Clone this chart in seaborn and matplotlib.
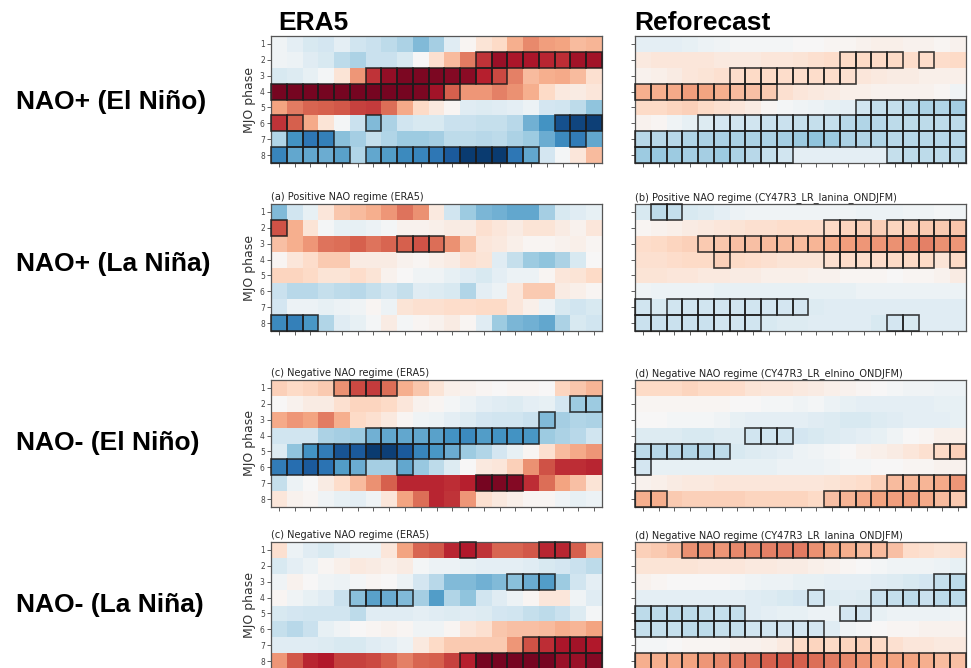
import numpy as np
import pandas as pd
import matplotlib
matplotlib.use("Agg")
import matplotlib.pyplot as plt
from matplotlib.patches import Rectangle
import seaborn as sns

# ---- axes labels -------------------------------------------------------
phases = [1, 2, 3, 4, 5, 6, 7, 8]
lags = list(range(21))

row_labels = ["NAO+ (El Niño)", "NAO+ (La Niña)", "NAO- (El Niño)", "NAO- (La Niña)"]
col_labels = ["ERA5", "Reforecast"]
panel_titles = [
    ["", ""],
    ["(a) Positive NAO regime (ERA5)", "(b) Positive NAO regime (CY47R3_LR_lanina_ONDJFM)"],
    ["(c) Negative NAO regime (ERA5)", "(d) Negative NAO regime (CY47R3_LR_elnino_ONDJFM)"],
    ["(c) Negative NAO regime (ERA5)", "(d) Negative NAO regime (CY47R3_LR_lanina_ONDJFM)"],
]

# ---- composite anomalies (rows: MJO phase 1-8, columns: lag) -------------
era5_pos_elnino = [
    [-0.2, -0.5, -0.8, -0.9, -0.5, -1.0, -1.1, -1.3, -1.6, -2.2, -1.7, -0.6, 0.1, 0.7, 1.0, 1.8, 2.4, 2.1, 2.0, 1.6, 1.7],
    [-0.2, -0.3, -0.6, -0.8, -1.3, -1.6, -1.1, -1.1, -0.8, 0.0, 0.8, 1.6, 2.6, 3.6, 4.3, 4.1, 4.1, 3.8, 3.7, 4.2, 4.2],
    [-0.8, -0.7, -0.4, -0.1, 0.7, 2.2, 3.6, 4.4, 4.7, 4.7, 4.7, 4.6, 4.5, 3.9, 3.3, 2.5, 1.6, 1.8, 1.9, 1.6, 0.8],
    [4.8, 4.8, 4.8, 4.8, 4.8, 4.8, 4.8, 4.8, 4.8, 4.7, 4.2, 3.0, 2.2, 2.2, 2.5, 2.3, 1.8, 1.0, 0.5, 0.4, 0.6],
    [2.0, 2.6, 2.9, 3.0, 3.1, 3.4, 3.5, 2.8, 1.9, 1.0, 0.5, 0.1, -0.6, -0.7, -0.6, -0.5, -0.3, -0.9, -1.0, -1.3, -2.0],
    [3.6, 3.0, 1.9, 0.7, -0.1, -1.1, -2.2, -1.6, -1.0, -0.8, -0.8, -1.1, -1.1, -1.2, -1.2, -1.4, -2.4, -3.0, -4.4, -4.6, -4.7],
    [-1.5, -3.0, -3.6, -3.4, -2.1, -1.7, -1.2, -1.5, -1.8, -1.8, -1.7, -1.3, -1.3, -1.4, -1.3, -1.6, -1.8, -2.5, -3.2, -3.5, -2.6],
    [-3.3, -2.6, -2.6, -2.5, -2.7, -1.5, -2.6, -2.8, -3.2, -3.3, -3.6, -4.2, -4.8, -4.8, -4.8, -3.6, -2.6, -0.9, -0.1, 0.6, 1.6],
]
fc_pos_elnino = [
    [-0.5, -0.5, -0.5, -0.4, -0.3, -0.2, -0.1, -0.1, -0.1, -0.1, 0.0, 0.0, 0.1, 0.1, 0.2, 0.3, 0.3, 0.2, 0.2, 0.1, 0.2],
    [0.5, 0.6, 0.6, 0.6, 0.6, 0.5, 0.5, 0.5, 0.6, 0.6, 0.7, 0.8, 0.9, 1.0, 1.0, 1.0, 1.0, 0.9, 0.9, 0.9, 1.0],
    [0.2, 0.3, 0.4, 0.6, 0.7, 0.8, 0.9, 1.0, 1.0, 0.9, 0.9, 0.9, 0.9, 0.8, 0.6, 0.5, 0.4, 0.4, 0.3, 0.3, 0.3],
    [1.8, 1.8, 1.9, 2.1, 2.0, 1.8, 1.6, 1.5, 1.3, 0.8, 0.6, 0.5, 0.4, 0.3, 0.3, 0.2, 0.2, 0.2, 0.2, 0.1, -0.2],
    [1.0, 1.0, 1.1, 1.2, 1.0, 0.8, 0.6, 0.4, 0.1, -0.1, -0.2, -0.3, -0.4, -0.5, -1.0, -1.2, -1.2, -1.4, -1.6, -1.5, -1.7],
    [0.2, 0.1, -0.2, -0.4, -0.7, -0.9, -1.0, -1.0, -1.1, -1.1, -1.2, -1.2, -1.2, -1.4, -1.5, -1.4, -1.3, -1.3, -1.3, -1.3, -1.3],
    [-1.4, -1.4, -1.4, -1.5, -1.6, -1.6, -1.6, -1.6, -1.6, -1.7, -1.8, -2.0, -1.8, -1.6, -1.5, -1.5, -1.4, -1.4, -1.4, -1.4, -1.4],
    [-1.8, -1.9, -1.8, -1.7, -1.7, -1.8, -1.6, -1.4, -1.2, -1.0, -0.5, -0.5, -0.5, -0.5, -0.5, -0.5, -1.2, -1.3, -1.3, -1.3, -1.3],
]
era5_pos_lanina = [
    [-2.2, -1.0, -0.4, 0.6, 1.4, 1.6, 1.8, 2.2, 2.7, 2.3, 0.5, -1.0, -1.8, -2.3, -2.4, -2.6, -2.6, -1.7, -0.8, -0.6, -0.4],
    [3.2, 1.8, 0.7, -0.1, -0.4, -0.4, -0.3, -0.1, 0.2, 0.2, 0.3, 0.4, 0.4, 0.8, 0.6, 0.4, 0.7, 0.7, 0.4, 0.2, 0.6],
    [1.5, 1.8, 2.2, 2.7, 2.8, 3.0, 2.7, 2.9, 3.0, 3.2, 2.8, 2.3, 1.4, 0.6, 0.5, 0.3, 0.1, 0.1, 0.2, 0.3, 0.1],
    [0.1, 0.6, 0.9, 1.3, 1.3, 0.4, 0.4, 0.4, 0.2, 0.1, 0.3, 0.4, 0.8, 0.7, -0.6, -1.2, -1.8, -2.0, -1.6, -0.8, 0.0],
    [1.1, 1.1, 1.0, 0.7, 0.7, 0.9, 0.7, 0.2, 0.0, -0.2, -0.2, -0.4, -0.6, -0.8, -0.5, -0.3, -0.3, 0.1, 0.6, 0.7, 1.0],
    [-1.1, -1.4, -1.4, -1.2, -1.3, -1.4, -1.2, -1.0, -1.2, -0.6, -0.7, -0.8, -1.5, -0.5, -0.3, 0.6, 1.3, 1.3, 0.4, 0.3, 0.1],
    [-0.9, -0.3, -0.3, -0.4, -0.3, -0.2, 0.1, -0.3, 0.7, 0.8, 0.8, 0.9, 0.9, 1.0, 1.0, 0.6, 0.3, -0.3, -0.8, -1.0, -0.8],
    [-3.2, -3.4, -2.9, -1.5, -0.6, -0.4, -0.1, 0.4, -0.1, 0.1, 0.2, 0.4, 0.1, -0.6, -1.8, -2.3, -2.4, -2.6, -1.6, -0.8, -1.0],
]
fc_pos_lanina = [
    [-0.8, -1.3, -1.2, -0.8, -0.7, -0.5, -0.3, -0.2, -0.2, -0.2, -0.2, -0.2, -0.2, -0.2, -0.3, -0.3, -0.3, -0.2, -0.2, -0.1, -0.2],
    [0.1, 0.2, 0.3, 0.4, 0.5, 0.6, 0.7, 0.8, 0.8, 0.9, 0.9, 0.9, 1.0, 1.1, 1.2, 1.2, 1.1, 1.2, 1.3, 1.3, 1.4],
    [0.9, 1.0, 1.1, 1.2, 1.3, 1.4, 1.5, 1.5, 1.6, 1.6, 1.6, 1.7, 1.9, 2.1, 2.2, 2.2, 2.3, 2.4, 2.5, 2.3, 2.2],
    [0.8, 0.8, 0.9, 1.0, 1.0, 1.2, 1.0, 0.9, 0.8, 0.7, 0.7, 0.7, 0.8, 0.9, 0.9, 0.9, 1.0, 1.0, 1.0, 0.7, 1.0],
    [0.7, 0.7, 0.6, 0.6, 0.5, 0.5, 0.4, 0.4, 0.3, 0.3, 0.3, 0.2, 0.2, 0.1, 0.1, 0.1, 0.0, 0.1, 0.1, 0.2, 0.4],
    [-0.2, -0.3, -0.3, -0.3, -0.3, -0.4, -0.4, -0.4, -0.4, -0.4, -0.4, -0.4, -0.4, -0.4, -0.3, -0.3, -0.3, -0.3, -0.3, -0.3, -0.3],
    [-1.0, -0.8, -1.0, -1.0, -1.0, -1.0, -1.0, -1.0, -0.9, -0.9, -0.9, -0.7, -0.6, -0.6, -0.6, -0.6, -0.6, -0.6, -0.6, -0.6, -0.6],
    [-1.1, -1.1, -1.1, -1.1, -1.1, -1.0, -1.0, -1.0, -0.8, -0.7, -0.7, -0.6, -0.6, -0.6, -0.6, -0.8, -0.9, -0.8, -0.6, -0.6, -0.6],
]
era5_neg_elnino = [
    [1.2, 1.0, 1.1, 1.3, 2.3, 3.3, 3.5, 2.8, 1.8, 1.4, 0.7, 0.3, 0.2, 0.1, 0.0, 0.1, 0.1, 0.0, 1.1, 1.4, 1.7],
    [0.0, 0.2, 0.4, 0.4, 0.8, 1.1, 1.1, 1.0, 0.6, 0.2, 0.1, -0.1, -0.3, -0.5, -0.6, -0.7, -0.5, -0.4, -0.9, -1.8, -1.8],
    [1.9, 2.2, 2.0, 2.6, 1.8, 1.0, 0.8, 0.5, 0.1, -0.2, -0.3, -0.5, -0.7, -0.9, -1.0, -1.0, -1.1, -2.2, -1.7, -1.5, -1.6],
    [-1.0, -1.0, -1.0, -1.6, -1.7, -1.8, -2.4, -2.6, -2.6, -2.6, -2.7, -3.0, -3.2, -2.8, -3.0, -3.0, -2.9, -1.8, -1.6, -1.4, -1.0],
    [-0.7, -2.0, -3.0, -3.5, -4.3, -4.2, -4.8, -4.7, -4.2, -3.3, -2.9, -2.5, -1.8, -1.5, -0.9, -0.4, 0.1, 0.8, 1.6, 1.9, 2.2],
    [-3.5, -3.8, -4.2, -3.7, -2.8, -2.5, -1.7, -1.7, -2.6, -1.9, -1.3, -0.7, 0.0, 0.5, 0.6, 1.2, 2.3, 3.2, 3.7, 3.7, 3.8],
    [-1.2, -0.3, 0.0, 0.4, 0.9, 1.6, 2.3, 3.0, 3.8, 3.8, 3.8, 3.7, 3.9, 4.8, 4.7, 4.6, 3.7, 2.8, 2.0, 1.5, 0.7],
    [0.6, 0.2, 0.1, -0.2, -0.4, -0.5, -0.2, 0.6, 2.0, 2.8, 3.8, 3.6, 2.2, 0.8, 0.5, 0.3, 0.1, 0.1, -0.2, -0.4, -0.3],
]
fc_neg_elnino = [
    [1.0, 1.0, 1.0, 1.1, 1.0, 1.0, 0.9, 0.7, 0.6, 0.6, 0.5, 0.4, 0.3, 0.2, 0.1, 0.0, -0.1, -0.2, -0.2, -0.3, -0.3],
    [0.1, 0.1, 0.1, 0.1, 0.1, 0.1, 0.0, 0.0, -0.1, -0.1, -0.2, -0.1, -0.3, -0.4, -0.5, -0.5, -0.5, -0.5, -0.5, -0.4, -0.4],
    [0.0, 0.0, -0.1, -0.1, -0.1, -0.2, -0.4, -0.5, -0.5, -0.5, -0.5, -0.6, -0.7, -0.8, -0.8, -0.7, -0.6, -0.5, -0.5, -0.5, -0.4],
    [-0.7, -0.7, -0.7, -0.8, -0.8, -0.7, -0.7, -1.0, -1.0, -1.0, -0.9, -0.8, -0.7, -0.6, -0.5, -0.4, -0.2, 0.0, 0.1, 0.3, 0.3],
    [-1.3, -1.4, -1.4, -1.5, -1.4, -1.3, -0.8, -0.7, -0.6, -0.5, -0.3, -0.2, -0.1, 0.0, 0.2, 0.3, 0.4, 0.6, 0.8, 1.0, 1.2],
    [-0.9, -0.4, -0.4, -0.4, -0.4, -0.4, -0.4, -0.4, -0.4, -0.3, -0.3, -0.3, -0.2, -0.1, -0.1, 0.0, 0.0, 0.1, 0.1, 0.2, 0.2],
    [0.2, 0.3, 0.4, 0.5, 0.5, 0.6, 0.6, 0.6, 0.6, 0.6, 0.6, 0.6, 0.7, 0.8, 0.9, 1.2, 1.6, 1.7, 1.7, 1.9, 2.2],
    [1.8, 1.8, 1.3, 1.2, 1.2, 1.2, 1.2, 1.1, 1.1, 1.1, 1.1, 1.0, 1.5, 1.7, 1.9, 2.0, 2.1, 2.1, 1.9, 1.6, 1.3],
]
era5_neg_lanina = [
    [0.8, -0.3, -0.6, -0.8, -0.5, -0.3, -0.3, 0.6, 2.0, 2.9, 3.1, 3.8, 4.0, 3.6, 2.9, 2.9, 3.1, 3.8, 3.8, 3.0, 1.6],
    [-0.8, -0.5, -0.3, 0.1, 0.3, 0.5, 0.4, 0.3, 0.4, -0.1, -0.3, -0.3, -0.4, -0.5, -0.5, -0.5, -0.6, -0.8, -0.9, -1.1, -1.3],
    [-0.2, 0.2, 0.0, -0.2, -0.3, -0.1, 0.1, 0.0, -0.3, -0.9, -1.4, -2.2, -2.2, -2.4, -2.2, -2.1, -2.5, -2.8, -1.8, -1.0, -0.5],
    [0.1, -0.2, -0.4, -0.6, -1.1, -2.1, -2.7, -2.5, -2.2, -1.7, -2.8, -1.5, -2.0, -1.0, -0.6, -0.3, 0.1, 0.6, 0.6, -0.2, -0.6],
    [-0.8, -0.9, -1.0, -1.0, -1.0, -1.3, -0.6, -0.6, -0.6, -0.5, -0.6, -0.7, -0.6, -0.7, -0.9, -1.0, -1.2, -1.3, -1.1, -0.7, -0.1],
    [-1.2, -1.4, -1.1, -0.4, -0.2, 0.0, 0.1, 0.2, 0.1, -0.2, -0.2, 0.1, 0.6, 0.8, 1.4, 1.5, 1.5, 1.6, 1.8, 1.7, 2.0],
    [-0.6, -0.6, -0.6, -0.7, -0.8, -0.8, -0.6, -0.5, -0.3, 0.5, 1.0, 1.3, 1.3, 1.3, 1.3, 2.2, 3.2, 3.7, 4.1, 4.2, 4.0],
    [2.2, 3.1, 3.8, 4.0, 3.4, 3.4, 3.3, 3.0, 2.5, 2.9, 3.0, 3.4, 3.9, 4.8, 4.8, 4.8, 4.8, 4.8, 4.3, 4.3, 4.6],
]
fc_neg_lanina = [
    [1.2, 1.3, 1.5, 2.3, 2.3, 2.2, 2.4, 2.4, 2.5, 2.6, 2.6, 2.3, 2.0, 1.8, 1.6, 1.6, 1.5, 0.9, 0.8, 0.7, 0.8],
    [0.7, 0.7, 0.7, 0.7, 0.6, 0.6, 0.6, 0.5, 0.5, 0.4, 0.4, 0.3, 0.2, 0.1, 0.0, -0.1, -0.2, -0.2, -0.2, -0.3, -0.4],
    [0.2, 0.1, 0.0, 0.0, 0.0, 0.0, -0.1, -0.2, -0.3, -0.3, -0.4, -0.4, -0.5, -0.5, -0.5, -0.6, -0.7, -0.8, -0.9, -1.2, -1.3],
    [-0.5, -0.5, -0.5, -0.5, -0.5, -0.5, -0.5, -0.6, -0.7, -0.8, -0.9, -1.0, -0.7, -0.6, -0.7, -1.1, -1.2, -1.3, -1.1, -1.3, -1.3],
    [-1.3, -1.3, -1.3, -1.3, -1.2, -1.2, -1.2, -0.6, -0.5, -0.4, -0.4, -0.3, -0.3, -0.9, -0.9, -0.4, -0.3, -0.3, -0.3, -0.3, -0.2],
    [-1.2, -1.2, -1.2, -1.3, -1.3, -1.2, -1.2, -1.0, -1.0, -0.9, -0.9, -0.9, -0.6, -0.2, -0.1, 0.0, 0.1, 0.1, 0.2, 0.2, 0.2],
    [-0.1, -0.1, 0.0, 0.1, 0.1, 0.1, 0.2, 0.2, 0.3, 0.5, 1.0, 1.1, 1.0, 1.1, 1.2, 1.0, 0.8, 0.6, 0.6, 0.5, 0.5],
    [1.8, 1.8, 1.9, 2.0, 2.2, 2.4, 2.6, 2.8, 3.0, 3.1, 3.0, 2.8, 2.6, 2.4, 2.2, 2.0, 2.0, 2.0, 1.8, 1.6, 1.5],
]

# ---- significant cells: per phase, inclusive (first, last) lag runs ------
sig_era5_pos_elnino = [[], [(13, 20)], [(6, 14)], [(0, 11)], [], [(0, 1), (6, 6), (18, 20)], [(1, 3), (19, 19)], [(0, 4), (6, 16)]]
sig_fc_pos_elnino = [[], [(13, 16), (18, 18)], [(6, 13)], [(0, 8)], [(14, 20)], [(4, 20)], [(0, 20)], [(0, 9), (16, 20)]]
sig_era5_pos_lanina = [[], [(0, 0)], [(8, 10)], [], [], [], [], [(0, 2)]]
sig_fc_pos_lanina = [[(1, 2)], [(12, 14), (16, 20)], [(4, 20)], [(5, 5), (12, 18), (20, 20)], [], [], [(0, 0), (2, 10)], [(0, 7), (16, 17)]]
sig_era5_neg_elnino = [[(4, 7)], [(19, 20)], [(17, 17)], [(6, 16)], [(2, 11)], [(0, 5), (8, 8)], [(13, 15)], []]
sig_fc_neg_elnino = [[], [], [], [(7, 9)], [(0, 5), (19, 20)], [(0, 0)], [(16, 20)], [(0, 1), (12, 20)]]
sig_era5_neg_lanina = [[(12, 12), (17, 18)], [], [(15, 17)], [(5, 8)], [], [], [(16, 20)], [(12, 20)]]
sig_fc_neg_lanina = [[(3, 15)], [], [(19, 20)], [(11, 11), (15, 20)], [(0, 6), (13, 14)], [(0, 11)], [(10, 15)], [(0, 20)]]

panels = [
    [(era5_pos_elnino, sig_era5_pos_elnino), (fc_pos_elnino, sig_fc_pos_elnino)],
    [(era5_pos_lanina, sig_era5_pos_lanina), (fc_pos_lanina, sig_fc_pos_lanina)],
    [(era5_neg_elnino, sig_era5_neg_elnino), (fc_neg_elnino, sig_fc_neg_elnino)],
    [(era5_neg_lanina, sig_era5_neg_lanina), (fc_neg_lanina, sig_fc_neg_lanina)],
]

# ---- figure --------------------------------------------------------------
sns.set_theme(style="white")
plt.rcParams["font.family"] = ["DejaVu Sans"]

W, H = 971, 668
fig = plt.figure(figsize=(W / 100, H / 100), dpi=100)
fig.patch.set_facecolor("white")


def add_px_axes(x0, y0, x1, y1):
    return fig.add_axes([x0 / W, 1 - y1 / H, (x1 - x0) / W, (y1 - y0) / H])


row_tops = [36, 204, 380, 542]
row_height = 127
col_spans = [(271, 602), (635, 966)]


def draw_panel(ax, values, sig, title, show_phase_labels):
    df = pd.DataFrame(values, index=phases, columns=lags)
    sns.heatmap(df, ax=ax, cmap="RdBu_r", vmin=-5, vmax=5, cbar=False,
                xticklabels=False, yticklabels=False, linewidths=0)
    for r, runs in enumerate(sig):
        for first, last in runs:
            for c in range(first, last + 1):
                ax.add_patch(Rectangle((c, r), 1, 1, fill=False, ec="#1c1c1c",
                                       lw=1.2, alpha=0.85, zorder=3, clip_on=False))
    ax.set_xticks(np.arange(len(lags)) + 0.5)
    ax.set_xticklabels([])
    ax.set_yticks(np.arange(len(phases)) + 0.5)
    if show_phase_labels:
        ax.set_yticklabels([str(p) for p in phases], rotation=0)
        ax.set_ylabel("MJO phase", fontsize=9, labelpad=3, color="#333333")
    else:
        ax.set_yticklabels([])
        ax.set_ylabel("")
    ax.set_xlabel("")
    ax.tick_params(axis="both", which="both", length=3, width=0.6, color="#444444",
                   labelsize=5.5, labelcolor="#444444", pad=1.5,
                   bottom=True, left=True, direction="out")
    for s in ax.spines.values():
        s.set_visible(True)
        s.set_color("#555555")
        s.set_linewidth(0.9)
    if title:
        ax.set_title(title, loc="left", fontsize=7, pad=3, color="#222222")


for i, row in enumerate(panels):
    for j, (vals, sig) in enumerate(row):
        x0, x1 = col_spans[j]
        ax = add_px_axes(x0, row_tops[i], x1, row_tops[i] + row_height)
        draw_panel(ax, vals, sig, panel_titles[i][j], show_phase_labels=(j == 0))

# column headers
header_x = [278, 634]
for x, lab in zip(header_x, col_labels):
    fig.text(x / W, 1 - 30 / H, lab, fontsize=19, fontweight="bold", color="black",
             family=["Liberation Sans", "DejaVu Sans"], ha="left", va="baseline")

# row headers
row_centers = [102, 264, 443, 605]
for yc, lab in zip(row_centers, row_labels):
    fig.text(16 / W, 1 - yc / H, lab, fontsize=19, fontweight="bold", color="black",
             family=["Liberation Sans", "DejaVu Sans"], ha="left", va="center")

fig.savefig("out.png", dpi=100, facecolor="white")
